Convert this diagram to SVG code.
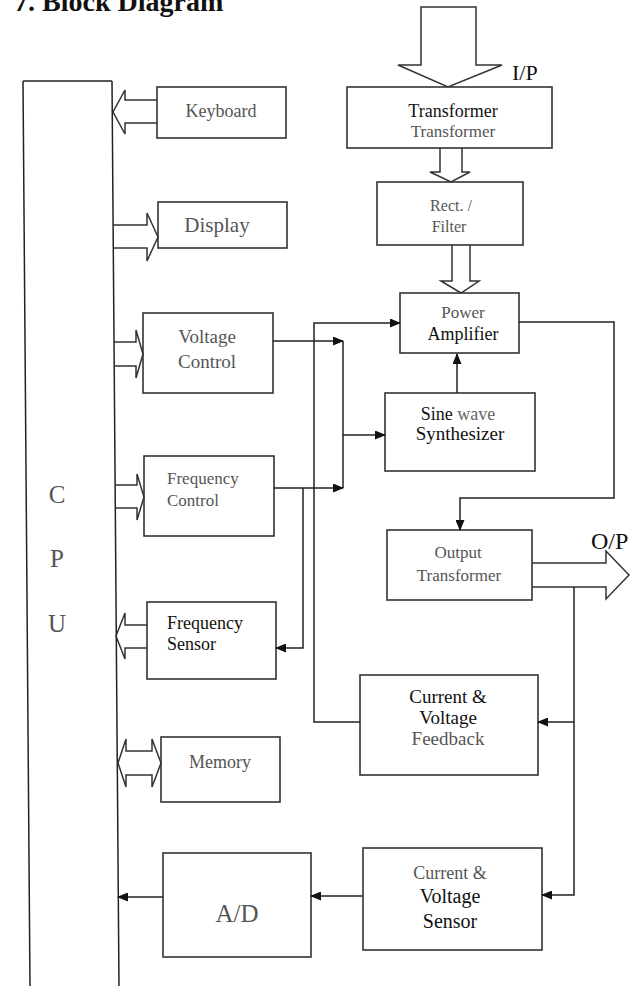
<svg xmlns="http://www.w3.org/2000/svg" width="630" height="986" viewBox="0 0 630 986">
<style>
.box{fill:#fff;stroke:#333;stroke-width:1.6}
.ln{fill:none;stroke:#222;stroke-width:1.5}
.ha{fill:none;stroke:#333;stroke-width:1.5;stroke-linejoin:miter}
.t{font-family:"Liberation Serif","Times New Roman",serif;fill:#111}
.g{fill:#555}
.c{text-anchor:middle}
</style>
<defs>
<marker id="ah" markerUnits="userSpaceOnUse" markerWidth="11" markerHeight="9" refX="10" refY="4.5" orient="auto">
<path d="M0,0 L11,4.5 L0,9 z" fill="#111"/>
</marker>
</defs>
<rect width="630" height="986" fill="#fff"/>
<text class="t" x="14" y="11" font-size="28" font-weight="bold">7. Block Diagram</text>

<g id="cpu">
<path class="ln" d="M23,81 L30,986 M23,81 H112 M112,81 L119,986"/>
<text class="t g c" x="57" y="503" font-size="25">C</text>
<text class="t g c" x="57" y="567" font-size="25">P</text>
<text class="t g c" x="57" y="632" font-size="25">U</text>
</g>

<g id="keyboard">
<rect class="box" x="157" y="87" width="129" height="51"/>
<text class="t g c" x="221" y="117" font-size="18">Keyboard</text>
<path class="ha" d="M157,100 H125 V90 L113,112 L125,134 V123 H157"/>
</g>

<g id="display">
<rect class="box" x="158" y="202" width="129" height="46"/>
<text class="t g c" x="217" y="232" font-size="21">Display</text>
<path class="ha" d="M113,225 H147 V213 L158,237 L147,261 V248 H113"/>
</g>

<g id="voltage-control">
<rect class="box" x="143" y="313" width="130" height="80"/>
<text class="t g c" x="207" y="343" font-size="19">Voltage</text>
<text class="t g c" x="207" y="368" font-size="19">Control</text>
<path class="ha" d="M114,342 H136 V330 L143,354 L136,378 V366 H114"/>
</g>

<g id="frequency-control">
<rect class="box" x="144" y="456" width="130" height="80"/>
<text class="t g" x="167" y="484" font-size="17">Frequency</text>
<text class="t g" x="167" y="506" font-size="17">Control</text>
<path class="ha" d="M115,485 H137 V474 L144,497 L137,520 V508 H115"/>
</g>

<g id="frequency-sensor">
<rect class="box" x="147" y="602" width="129" height="77"/>
<text class="t" x="167" y="629" font-size="18">Frequency</text>
<text class="t" x="167" y="650" font-size="18">Sensor</text>
<path class="ha" d="M147,625 H125 V613 L116,636 L125,659 V648 H147"/>
</g>

<g id="memory">
<rect class="box" x="161" y="737" width="119" height="65"/>
<text class="t g c" x="220" y="768" font-size="18">Memory</text>
<path class="ha" d="M118,763 L126,739 V751 H152 V739 L161,763 L152,787 V775 H126 V787 Z"/>
</g>

<g id="ad">
<rect class="box" x="163" y="853" width="148" height="104"/>
<text class="t g c" x="237" y="922" font-size="25">A/D</text>
</g>

<g id="input">
<path class="ha" d="M421,7 H476 V65 H502 L448,87 L398,65 H421 Z"/>
<text class="t" x="512" y="80" font-size="22">I/P</text>
</g>

<g id="transformer">
<rect class="box" x="347" y="87" width="205" height="61"/>
<text class="t c" x="453" y="117" font-size="18">Transformer</text>
<text class="t g c" x="453" y="137" font-size="17">Transformer</text>
</g>

<g id="rect-filter">
<rect class="box" x="377" y="182" width="146" height="63"/>
<text class="t g c" x="451" y="211" font-size="16">Rect. /</text>
<text class="t g c" x="449" y="232" font-size="16">Filter</text>
</g>

<g id="power-amplifier">
<rect class="box" x="400" y="293" width="119" height="60"/>
<text class="t g c" x="463" y="318" font-size="17">Power</text>
<text class="t c" x="463" y="340" font-size="18">Amplifier</text>
</g>

<g id="sine-wave-synthesizer">
<rect class="box" x="385" y="393" width="150" height="78"/>
<text class="t c" x="458" y="420" font-size="18">Sine <tspan fill="#666">wave</tspan></text>
<text class="t c" x="460" y="440" font-size="19">Synthesizer</text>
</g>

<g id="output-transformer">
<rect class="box" x="387" y="530" width="145" height="70"/>
<text class="t g c" x="458" y="558" font-size="17">Output</text>
<text class="t g c" x="459" y="581" font-size="17">Transformer</text>
</g>

<g id="output">
<path class="ha" d="M532,563 H606 V551 L629,575 L606,599 V587 H532"/>
<text class="t" x="591" y="549" font-size="24">O/P</text>
</g>

<g id="cv-feedback">
<rect class="box" x="360" y="675" width="178" height="100"/>
<text class="t c" x="448" y="703" font-size="19">Current &amp;</text>
<text class="t c" x="448" y="724" font-size="19">Voltage</text>
<text class="t g c" x="448" y="745" font-size="19">Feedback</text>
</g>

<g id="cv-sensor">
<rect class="box" x="363" y="848" width="179" height="102"/>
<text class="t g c" x="450" y="879" font-size="18">Current &amp;</text>
<text class="t c" x="450" y="903" font-size="20">Voltage</text>
<text class="t c" x="450" y="928" font-size="20">Sensor</text>
</g>

<g id="connectors">
<path class="ha" d="M440,148 V172 H430 L451,182 L470,172 H462 V148"/>
<path class="ha" d="M452,245 V281 H441 L461,293 L479,281 H470 V245"/>
<path class="ln" marker-end="url(#ah)" d="M273,341 H343"/>
<path class="ln" d="M343,341 V488"/>
<path class="ln" marker-end="url(#ah)" d="M274,488 H343"/>
<path class="ln" marker-end="url(#ah)" d="M343,435 H385"/>
<path class="ln" marker-end="url(#ah)" d="M457,393 V354"/>
<path class="ln" marker-end="url(#ah)" d="M303,488 V648 H276"/>
<path class="ln" marker-end="url(#ah)" d="M360,722 H314 V323 H400"/>
<path class="ln" marker-end="url(#ah)" d="M519,322 H614 V498 H460 V530"/>
<path class="ln" marker-end="url(#ah)" d="M574,587 V895 H542"/>
<path class="ln" marker-end="url(#ah)" d="M574,722 H538"/>
<path class="ln" marker-end="url(#ah)" d="M363,896 H311"/>
<path class="ln" marker-end="url(#ah)" d="M163,897 H118"/>
</g>
</svg>
